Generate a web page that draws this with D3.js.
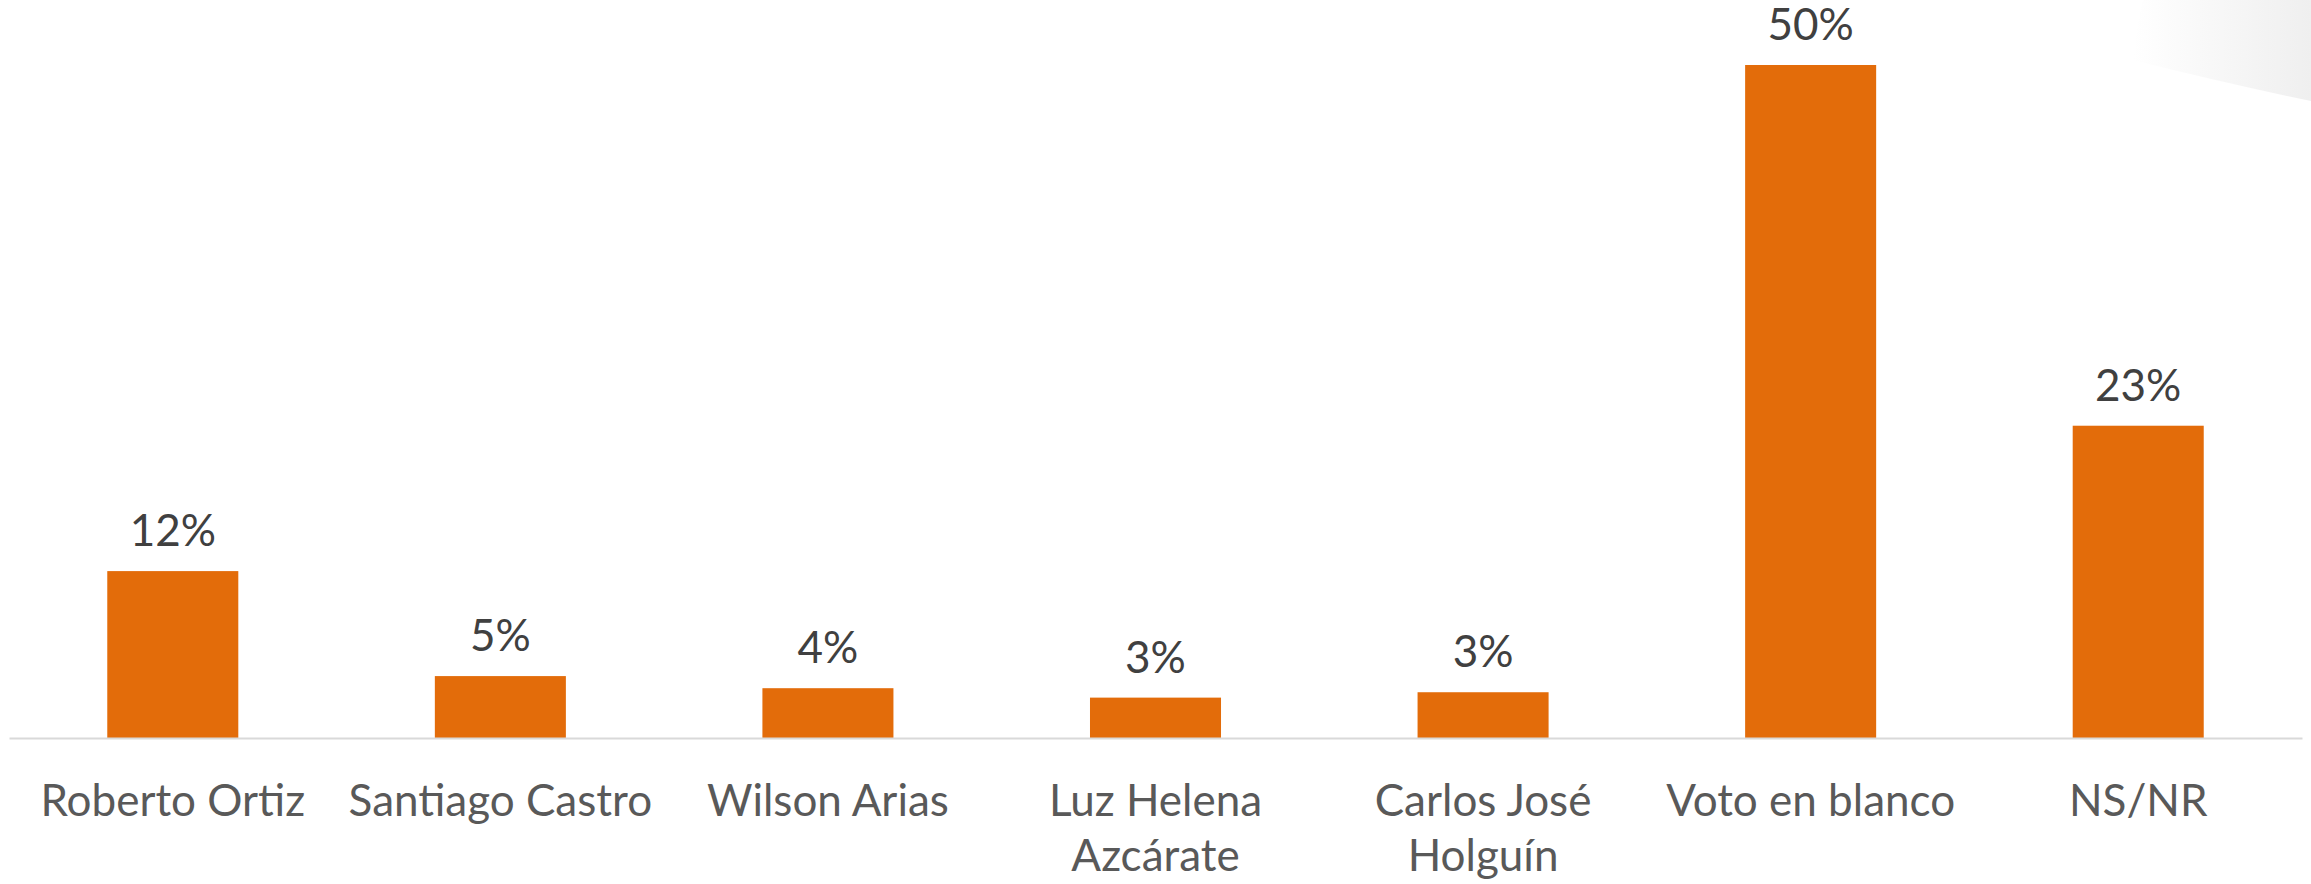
<!DOCTYPE html>
<html>
<head>
<meta charset="utf-8">
<script src="https://cdn.jsdelivr.net/npm/d3@7"></script>
<style>
  html, body { margin: 0; padding: 0; background: #fff; }
  svg { display: block; }
</style>
</head>
<body>
<script>
var categories = ["Roberto Ortiz", "Santiago Castro", "Wilson Arias", "Luz Helena Azcárate",
  "Carlos José Holguín", "Voto en blanco", "NS/NR"];
var values = [12.4, 4.6, 3.7, 3.0, 3.4, 50.0, 23.2];
var valueLabels = ["12%", "5%", "4%", "3%", "3%", "50%", "23%"];
var yDomain = [0, 50];

var width = 2311,
  height = 884;

var svg = d3.select("body").append("svg")
  .attr("width", width)
  .attr("height", height);

// light slide decoration in the top right corner
var defs = svg.append("defs");
var grad = defs.append("linearGradient")
  .attr("id", "corner")
  .attr("x1", "0").attr("y1", "0")
  .attr("x2", "1").attr("y2", "0");
grad.append("stop").attr("offset", "0").attr("stop-color", "#ffffff");
grad.append("stop").attr("offset", "1").attr("stop-color", "#efefef");

svg.append("path")
  .attr("d", "M2143,0 L2311,0 L2311,101 Q2220,82 2133,60 Q2136,30 2143,0 Z")
  .style("fill", "url(#corner)");

var x = d3.scaleBand()
  .domain(categories)
  .range([9, 2302])
  .paddingInner(0.6)
  .paddingOuter(0.3);

var y = d3.scaleLinear()
  .domain(yDomain)
  .range([738, 65]);

var xAxis = d3.axisBottom(x)
  .tickSize(0)
  .tickSizeOuter(0)
  .tickPadding(0);

var bars = svg.selectAll("rect.bar")
  .data(values)
  .enter().append("rect")
  .attr("class", "bar")
  .style("fill", "#E36C0A")
  .attr("x", function (d, i) { return x(categories[i]); })
  .attr("y", function (d) { return y(d); })
  .attr("width", x.bandwidth())
  .attr("height", function (d) { return y(0) - y(d); });

svg.selectAll("text.val")
  .data(values)
  .enter().append("text")
  .attr("class", "val")
  .attr("x", function (d, i) { return x(categories[i]) + x.bandwidth() / 2; })
  .attr("y", function (d) { return y(d) - 25; })
  .attr("text-anchor", "middle")
  .style("font-family", "Lato, 'Open Sans', sans-serif")
  .style("font-size", "44px")
  .style("fill", "#404040")
  .text(function (d, i) { return valueLabels[i]; });

var gx = svg.append("g")
  .attr("transform", "translate(0," + y(0) + ")")
  .call(xAxis);

gx.select(".domain")
  .attr("stroke", "#d9d9d9")
  .attr("stroke-width", 2);

// wrap long labels to the band step like the original
gx.selectAll(".tick text")
  .attr("dy", null)
  .attr("y", 0)
  .style("font-family", "Lato, 'Open Sans', sans-serif")
  .style("font-size", "44px")
  .style("fill", "#595959")
  .each(function (d) {
    var text = d3.select(this);
    var words = d.split(" ");
    text.text(null);
    var lines = [];
    var line = [];
    var tspan = text.append("tspan").attr("x", 0);
    words.forEach(function (w) {
      line.push(w);
      tspan.text(line.join(" "));
      if (tspan.node().getComputedTextLength() > x.step() - 6 && line.length > 1) {
        line.pop();
        lines.push(line.join(" "));
        line = [w];
      }
    });
    lines.push(line.join(" "));
    text.text(null);
    lines.forEach(function (l, i) {
      text.append("tspan")
        .attr("x", 0)
        .attr("y", 78 + i * 55)
        .text(l);
    });
  });
</script>
</body>
</html>
